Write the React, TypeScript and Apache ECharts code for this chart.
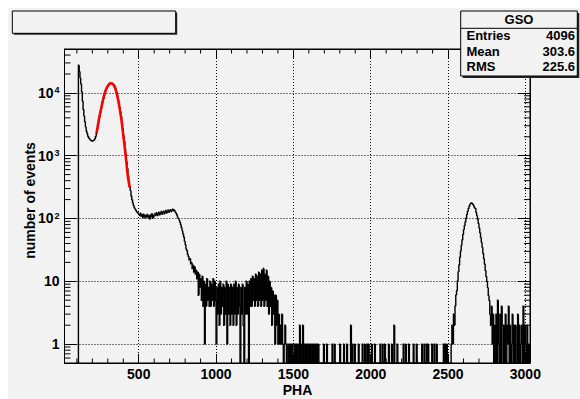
import React, { useEffect, useRef } from 'react';
import * as echarts from 'echarts';

// ---------------- data ----------------
const BIN_START = 100; // low edge of first bin (PHA)
const BIN_WIDTH = 5;   // PHA units per bin
const counts = [
  0, 0, 27500, 22000, 17500, 14000, 10500, 7500, 5500, 4300, 3500, 2900, 2500, 2250, 2050, 1950, 1870, 1800, 1760, 1730,
  1710, 1720, 1760, 1850, 2000, 2250, 2600, 3000, 3500, 4100, 4800, 5500, 6300, 7100, 8000, 9000, 9900, 10800, 11700, 12400,
  13000, 13500, 13900, 14100, 14200, 14200, 14000, 13700, 13200, 12600, 11600, 10500, 9300, 8100, 7000, 5900, 5000, 4200, 3400, 2700,
  2100, 1700, 1300, 1050, 800, 630, 480, 400, 330, 280, 230, 200, 178, 162, 150, 143, 136, 129, 126, 121,
  118, 112, 121, 108, 115, 104, 117, 110, 102, 113, 107, 116, 103, 111, 98, 114, 106, 119, 101, 112,
  109, 120, 113, 124, 111, 118, 126, 115, 122, 129, 117, 125, 131, 119, 127, 134, 122, 130, 137, 126,
  132, 138, 129, 136, 140, 133, 135, 128, 122, 115, 106, 101, 95, 88, 80, 72, 64, 57, 51, 44,
  39, 33, 31, 27, 25, 22, 23, 19, 20, 16, 18, 14, 17, 13, 15, 11, 14, 6, 13, 8,
  11, 5, 12, 4, 10, 1, 9, 4, 11, 5, 8, 4, 10, 4, 9, 5, 11, 4, 10, 5,
  1, 8, 3, 9, 2, 10, 3, 8, 4, 9, 2, 8, 3, 10, 1, 9, 3, 8, 2, 9,
  3, 8, 2, 9, 3, 10, 2, 8, 3, 9, 4, 0, 8, 3, 9, 2, 0, 8, 3, 10,
  3, 9, 0, 10, 4, 11, 4, 12, 5, 11, 4, 13, 5, 12, 4, 14, 5, 13, 4, 15,
  5, 16, 4, 13, 5, 15, 4, 12, 3, 10, 4, 8, 2, 7, 3, 6, 1, 6, 2, 5,
  1, 3, 1, 2, 1, 3, 1, 0, 1, 2, 1, 0, 1, 1, 0, 1, 0, 1, 0, 1,
  1, 0, 1, 0, 1, 0, 1, 0, 2, 0, 1, 0, 2, 0, 1, 0, 1, 0, 1, 0,
  1, 0, 1, 0, 1, 0, 1, 0, 1, 0, 1, 0, 1, 0, 0, 0, 0, 0, 0, 1,
  0, 0, 0, 1, 0, 0, 0, 0, 0, 0, 1, 0, 0, 1, 0, 0, 0, 0, 0, 0,
  1, 0, 0, 0, 0, 1, 0, 0, 0, 1, 0, 0, 0, 0, 2, 0, 1, 0, 0, 1,
  0, 0, 0, 0, 1, 0, 0, 0, 0, 1, 0, 0, 1, 0, 0, 1, 0, 1, 0, 0,
  0, 1, 0, 0, 0, 1, 0, 0, 0, 0, 0, 0, 1, 0, 0, 1, 0, 0, 1, 0,
  0, 0, 0, 1, 0, 0, 0, 1, 0, 0, 2, 0, 0, 0, 1, 0, 0, 0, 0, 0,
  0, 0, 1, 0, 0, 1, 0, 0, 0, 1, 0, 0, 0, 0, 0, 1, 0, 0, 0, 1,
  0, 0, 0, 0, 0, 0, 1, 0, 0, 1, 0, 0, 1, 0, 1, 0, 0, 0, 0, 1,
  0, 0, 1, 0, 0, 1, 0, 0, 0, 0, 0, 0, 0, 0, 1, 0, 1, 0, 1, 0,
  0, 0, 0, 0, 1, 2, 1, 3, 2, 4, 6, 7, 10, 14, 18, 24, 30, 37, 45, 55,
  66, 76, 87, 100, 114, 128, 142, 155, 165, 172, 177, 175, 168, 160, 150, 145, 126, 112, 98, 84,
  71, 60, 50, 42, 35, 28, 23, 19, 15, 12, 10, 8, 6, 5, 3, 2, 4, 1, 3, 0,
  2, 0, 3, 0, 5, 1, 0, 3, 0, 4, 2, 0, 2, 0, 3, 0, 2, 1, 4, 0,
  2, 0, 1, 3, 0, 2, 0, 2, 1, 0, 3, 0, 2, 0, 1, 2, 0, 4, 0, 2,
  1, 0, 2, 0, 1, 0,
];

// fitted photopeak (red curve)
const fitX = [227, 235, 245, 255, 265, 275, 285, 295, 305, 315, 322, 330, 340, 350, 360, 370, 380, 390, 400, 410, 420, 430, 442];
const fitY = [2300, 3000, 4100, 5400, 7000, 9000, 10800, 12300, 13400, 14100, 14200, 14000, 13000, 11400, 9200, 7000, 5000, 3400, 2100, 1300, 780, 460, 310];

const X_MIN = 20;
const X_MAX = 3030;
const Y_MIN = 0.5;
const Y_MAX = 50000;

const statsTitle = 'GSO';
const statsLabels = ['Entries', 'Mean', 'RMS'];
const statsValues = ['4096', '303.6', '225.6'];
const xTitle = 'PHA';
const yTitle = 'number of events';

const xMinorTicks: number[] = [];
for (let v = 100; v <= 3000; v += 100) if (v % 500 !== 0) xMinorTicks.push(v);
const yMinorTicks: number[] = [];
for (let d = 0.1; d <= 10000; d *= 10) {
  for (let k = 2; k <= 9; k++) {
    const v = Math.round(d * k * 1000) / 1000;
    if (v > Y_MIN && v < Y_MAX) yMinorTicks.push(v);
  }
}

const FONT = '"Liberation Sans", Arial, Helvetica, sans-serif';
const BG = '#f2f2f2';

export default function App() {
  const ref = useRef<HTMLDivElement>(null);
  useEffect(() => {
    if (!ref.current) return;
    const chart = echarts.init(ref.current, null, { renderer: 'svg' });

    // each bin: [low edge, content, content of previous bin]
    const histData: number[][] = counts.map((c, i) => [BIN_START + i * BIN_WIDTH, c, i > 0 ? counts[i - 1] : 0]);
    const fitData = fitX.map((x, i) => [x, fitY[i]]);

    const yLabel = (v: number) => {
      const e = Math.log10(v);
      const n = Math.round(e);
      if (Math.abs(e - n) > 1e-6 || n < 0) return '';
      if (n === 0) return '{b|1}';
      if (n === 1) return '{b|10}';
      return '{b|10}{s|' + n + '}';
    };

    const labelStyle = { fontSize: 14, fontWeight: 'bold', fontFamily: FONT, color: '#000' };
    const black = { color: '#000', width: 1 };

    const option: any = {
      animation: false,
      backgroundColor: BG,
      grid: { left: 56.5, right: 50, top: 41, bottom: 36, show: true, borderColor: '#000', borderWidth: 1, backgroundColor: BG },
      xAxis: [
        {
          type: 'value', min: X_MIN, max: X_MAX, position: 'bottom', splitNumber: 6,
          axisLine: { show: true, lineStyle: black },
          axisTick: { show: true, inside: true, length: 9, lineStyle: black },
          axisLabel: {
            ...labelStyle, margin: 4, showMinLabel: false, showMaxLabel: false,
            formatter: (v: number) => (v % 500 === 0 ? String(v) : ''),
          },
          splitLine: { show: true, lineStyle: { color: '#000', width: 1, type: [1, 2] } },
        },
        {
          type: 'value', min: X_MIN, max: X_MAX, position: 'top', splitNumber: 6,
          axisLine: { show: true, lineStyle: black },
          axisTick: { show: true, inside: true, length: 9, lineStyle: black },
          axisLabel: { show: false },
          splitLine: { show: false },
        },
      ],
      yAxis: [
        {
          type: 'log', logBase: 10, min: Y_MIN, max: Y_MAX, position: 'left',
          axisLine: { show: true, lineStyle: black },
          axisTick: { show: true, inside: true, length: 12, lineStyle: black },
          minorTick: { show: false },
          axisLabel: {
            margin: 5, formatter: yLabel, showMinLabel: false, showMaxLabel: false,
            rich: {
              b: { fontSize: 14, fontWeight: 'bold', fontFamily: FONT, color: '#000' },
              s: { fontSize: 9, fontWeight: 'bold', fontFamily: FONT, color: '#000', verticalAlign: 'top', padding: [0, 0, 0, 1] },
            },
          },
          splitLine: { show: true, lineStyle: { color: '#000', width: 1, type: [1, 2] } },
        },
        {
          type: 'log', logBase: 10, min: Y_MIN, max: Y_MAX, position: 'right',
          axisLine: { show: true, lineStyle: black },
          axisTick: { show: true, inside: true, length: 12, lineStyle: black },
          axisLabel: { show: false },
          splitLine: { show: false },
        },
      ],
      series: [
        {
          type: 'custom', name: 'yminor', xAxisIndex: 0, yAxisIndex: 0, silent: true,
          data: yMinorTicks.map((v) => [X_MIN, v]),
          renderItem: (params: any, api: any) => {
            const y = api.coord([X_MIN, api.value(1)])[1];
            const left = api.coord([X_MIN, 1])[0];
            const right = api.coord([X_MAX, 1])[0];
            return {
              type: 'group',
              children: [
                { type: 'line', shape: { x1: left, y1: y, x2: left + 6, y2: y }, style: { stroke: '#000', lineWidth: 1 } },
                { type: 'line', shape: { x1: right - 6, y1: y, x2: right, y2: y }, style: { stroke: '#000', lineWidth: 1 } },
              ],
            };
          },
        },
        {
          type: 'custom', name: 'xminor', xAxisIndex: 0, yAxisIndex: 0, silent: true,
          data: xMinorTicks.map((v) => [v, 1]),
          renderItem: (params: any, api: any) => {
            const x = api.coord([api.value(0), 1])[0];
            const bottom = api.coord([X_MIN, Y_MIN])[1];
            const top = api.coord([X_MIN, Y_MAX])[1];
            return {
              type: 'group',
              children: [
                { type: 'line', shape: { x1: x, y1: bottom, x2: x, y2: bottom - 4.5 }, style: { stroke: '#000', lineWidth: 1 } },
                { type: 'line', shape: { x1: x, y1: top, x2: x, y2: top + 4.5 }, style: { stroke: '#000', lineWidth: 1 } },
              ],
            };
          },
        },
        {
          type: 'custom', name: 'GSO', xAxisIndex: 0, yAxisIndex: 0, silent: true, clip: false, z: 3,
          data: histData,
          encode: { x: 0, y: 1 },
          renderItem: (params: any, api: any) => {
            const lo = api.value(0);
            const c = api.value(1);
            const p = api.value(2);
            const bottom = api.coord([lo, Y_MIN])[1];
            const x0 = api.coord([lo, Y_MIN])[0];
            const x1 = api.coord([lo + BIN_WIDTH, Y_MIN])[0];
            const yc = c > 0 ? api.coord([lo, c])[1] : bottom;
            const yp = p > 0 ? api.coord([lo, p])[1] : bottom;
            return {
              type: 'polyline',
              shape: { points: [[x0, yp], [x0, yc], [x1, yc]] },
              style: { stroke: '#000', lineWidth: 1.4, fill: null },
            };
          },
        },
        {
          type: 'line', name: 'fit', xAxisIndex: 0, yAxisIndex: 0, smooth: true,
          data: fitData, showSymbol: false, symbol: 'none', clip: true,
          lineStyle: { color: '#ff0000', width: 2.5 }, z: 4,
        },
      ],
      graphic: [
        // empty title box with shadow
        { type: 'rect', shape: { x: 5.8, y: 4.5, width: 163.4, height: 22.3 }, style: { fill: '#222' }, z: 10 },
        { type: 'rect', shape: { x: 4.3, y: 3, width: 163.4, height: 22.3 }, style: { fill: BG, stroke: '#000', lineWidth: 1 }, z: 11 },
        // stats box
        { type: 'rect', shape: { x: 454.7, y: 5, width: 116.6, height: 65 }, style: { fill: '#222' }, z: 10 },
        { type: 'rect', shape: { x: 452.7, y: 3, width: 116.6, height: 65 }, style: { fill: BG, stroke: '#000', lineWidth: 1 }, z: 11 },
        { type: 'line', shape: { x1: 452.7, y1: 20.3, x2: 569.3, y2: 20.3 }, style: { stroke: '#000', lineWidth: 1 }, z: 12 },
        {
          type: 'text', x: 511, y: 11.5, z: 12,
          style: { text: statsTitle, fontSize: 13, fontWeight: 'bold', fontFamily: FONT, fill: '#000', align: 'center', verticalAlign: 'middle', textAlign: 'center', textVerticalAlign: 'middle' },
        },
        ...statsLabels.map((t, i) => ({
          type: 'text', x: 458.5, y: 27.5 + i * 15.7, z: 12,
          style: { text: t, fontSize: 13, fontWeight: 'bold', fontFamily: FONT, fill: '#000', align: 'left', verticalAlign: 'middle', textAlign: 'left', textVerticalAlign: 'middle' },
        })),
        ...statsValues.map((t, i) => ({
          type: 'text', x: 567, y: 27.5 + i * 15.7, z: 12,
          style: { text: t, fontSize: 13, fontWeight: 'bold', fontFamily: FONT, fill: '#000', align: 'right', verticalAlign: 'middle', textAlign: 'right', textVerticalAlign: 'middle' },
        })),
        // axis titles
        {
          type: 'text', x: 289.5, y: 382, z: 12,
          style: { text: xTitle, fontSize: 14, fontWeight: 'bold', fontFamily: FONT, fill: '#000', align: 'center', verticalAlign: 'middle', textAlign: 'center', textVerticalAlign: 'middle' },
        },
        {
          type: 'text', x: 22, y: 192.5, rotation: Math.PI / 2, z: 12,
          style: { text: yTitle, fontSize: 14, fontWeight: 'bold', fontFamily: FONT, fill: '#000', align: 'center', verticalAlign: 'middle', textAlign: 'center', textVerticalAlign: 'middle' },
        },
      ],
    };
    chart.setOption(option);
    return () => chart.dispose();
  }, []);

  return <div ref={ref} style={{ position: 'fixed', left: 8, top: 8, width: 572, height: 391 }} />;
}
